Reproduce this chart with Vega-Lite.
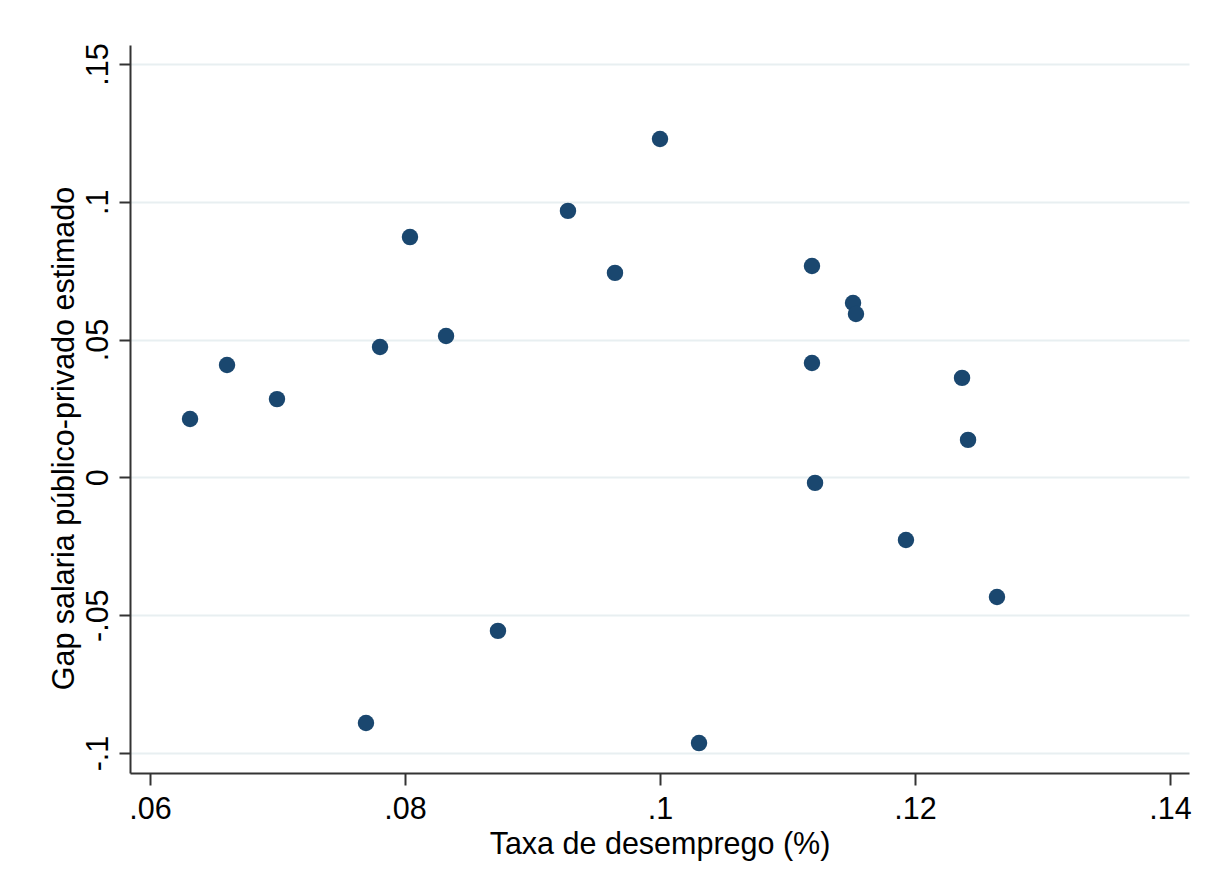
{
  "$schema": "https://vega.github.io/schema/vega-lite/v6.json",
  "width": 1059,
  "height": 728,
  "autosize": {"type": "none"},
  "padding": {"left": 130, "top": 45, "right": 21, "bottom": 115},
  "background": "white",
  "config": {
    "view": {"stroke": null},
    "font": "Liberation Sans"
  },
  "data": {
    "values": [
      {"u": 0.06314, "gap": 0.0212},
      {"u": 0.06604, "gap": 0.0408},
      {"u": 0.06996, "gap": 0.0284},
      {"u": 0.07694, "gap": -0.0891},
      {"u": 0.07804, "gap": 0.0473},
      {"u": 0.08039, "gap": 0.0872},
      {"u": 0.08322, "gap": 0.0513},
      {"u": 0.08729, "gap": -0.0557},
      {"u": 0.09278, "gap": 0.0967},
      {"u": 0.09647, "gap": 0.0742},
      {"u": 0.1, "gap": 0.1228},
      {"u": 0.10306, "gap": -0.0964},
      {"u": 0.11192, "gap": 0.0767},
      {"u": 0.11192, "gap": 0.0415},
      {"u": 0.11216, "gap": -0.002},
      {"u": 0.11514, "gap": 0.0633},
      {"u": 0.11537, "gap": 0.0593},
      {"u": 0.11929, "gap": -0.0227},
      {"u": 0.12369, "gap": 0.0361},
      {"u": 0.12416, "gap": 0.0136},
      {"u": 0.12643, "gap": -0.0434}
    ]
  },
  "mark": {"type": "circle", "size": 270, "color": "#1a476f", "opacity": 1},
  "encoding": {
    "x": {
      "field": "u",
      "type": "quantitative",
      "scale": {"domain": [0.058431, 0.14149], "nice": false, "zero": false},
      "axis": {
        "title": "Taxa de desemprego (%)",
        "values": [0.06, 0.08, 0.1, 0.12, 0.14],
        "labelExpr": "replace(toString(datum.value), '0.', '.')",
        "grid": false,
        "domainColor": "#333333",
        "domainWidth": 2,
        "tickColor": "#333333",
        "tickWidth": 2,
        "tickSize": 12,
        "labelFontSize": 30.5,
        "labelColor": "#000000",
        "labelBaseline": "alphabetic",
        "labelAlign": "center",
        "labelPadding": 33,
        "labelFlush": false,
        "labelOverlap": false,
        "titleFontSize": 30.5,
        "titleFontWeight": "normal",
        "titleColor": "#000000",
        "titleBaseline": "alphabetic",
        "titleY": 80
      }
    },
    "y": {
      "field": "gap",
      "type": "quantitative",
      "scale": {"domain": [-0.10726, 0.15689], "nice": false, "zero": false},
      "axis": {
        "title": "Gap salaria público-privado estimado",
        "values": [-0.1, -0.05, 0, 0.05, 0.1, 0.15],
        "labelExpr": "replace(toString(datum.value), '0.', '.')",
        "grid": true,
        "gridColor": "#e8eff1",
        "gridWidth": 2,
        "domainColor": "#333333",
        "domainWidth": 2,
        "tickColor": "#333333",
        "tickWidth": 2,
        "tickSize": 11,
        "labelFontSize": 30.5,
        "labelColor": "#000000",
        "labelAngle": -90,
        "labelAlign": "center",
        "labelBaseline": "alphabetic",
        "labelPadding": 12,
        "labelFlush": false,
        "labelOverlap": false,
        "titleFontSize": 30.5,
        "titleFontWeight": "normal",
        "titleColor": "#000000",
        "titleAngle": -90,
        "titleAlign": "center",
        "titleBaseline": "alphabetic",
        "titleX": -57,
        "titleY": 393
      }
    }
  }
}
